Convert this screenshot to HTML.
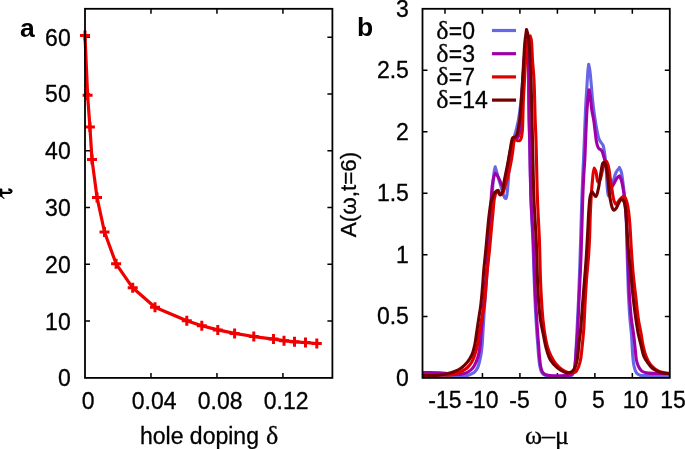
<!DOCTYPE html><html><head><meta charset="utf-8"><style>
html,body{margin:0;padding:0;background:#fff;width:685px;height:449px;overflow:hidden}
svg{display:block;will-change:transform}
text{font-family:"Liberation Sans",sans-serif;fill:#000}
.t{font-size:23px;stroke:#000;stroke-width:0.3px}
.b{font-size:26.5px;font-weight:bold}
.s{font-family:"Liberation Serif",serif;stroke:#000;stroke-width:0.3px}
</style></head><body>
<svg width="685" height="449" viewBox="0 0 685 449">
<path d="M150.97,377.9 v-5 M150.97,8.8 v5 M216.95,377.9 v-5 M216.95,8.8 v5 M282.92,377.9 v-5 M282.92,8.8 v5 M85,321.12 h5 M332.4,321.12 h-5 M85,264.33 h5 M332.4,264.33 h-5 M85,207.55 h5 M332.4,207.55 h-5 M85,150.76 h5 M332.4,150.76 h-5 M85,93.98 h5 M332.4,93.98 h-5 M85,37.19 h5 M332.4,37.19 h-5" stroke="#000" stroke-width="1.5" fill="none"/>
<polyline points="85,35.5 87.6,95.3 89.9,126.9 92,159.6 97,197.4 104.5,232 116.1,263.8 132.7,287.8 155,307.2 186.8,320.7 201.8,325.7 217.8,329.9 234.6,333.4 253.8,336.5 273.5,339.1 284,340.7 294.5,341.8 305.5,342.5 316.8,343.6" fill="none" stroke="#f00000" stroke-width="3.2" stroke-linejoin="round" stroke-linecap="round"/>
<path d="M80,35.5 h10 M85,30.5 v10 M82.6,95.3 h10 M87.6,90.3 v10 M84.9,126.9 h10 M89.9,121.9 v10 M87,159.6 h10 M92,154.6 v10 M92,197.4 h10 M97,192.4 v10 M99.5,232 h10 M104.5,227 v10 M111.1,263.8 h10 M116.1,258.8 v10 M127.7,287.8 h10 M132.7,282.8 v10 M150,307.2 h10 M155,302.2 v10 M181.8,320.7 h10 M186.8,315.7 v10 M196.8,325.7 h10 M201.8,320.7 v10 M212.8,329.9 h10 M217.8,324.9 v10 M229.6,333.4 h10 M234.6,328.4 v10 M248.8,336.5 h10 M253.8,331.5 v10 M268.5,339.1 h10 M273.5,334.1 v10 M279,340.7 h10 M284,335.7 v10 M289.5,341.8 h10 M294.5,336.8 v10 M300.5,342.5 h10 M305.5,337.5 v10 M311.8,343.6 h10 M316.8,338.6 v10" stroke="#f00000" stroke-width="3" fill="none"/>
<rect x="85" y="8.8" width="247.4" height="369.1" fill="none" stroke="#000" stroke-width="1.8"/>
<text class="t" x="70.7" y="386.3" text-anchor="end">0</text>
<text class="t" x="70.7" y="329.52" text-anchor="end">10</text>
<text class="t" x="70.7" y="272.73" text-anchor="end">20</text>
<text class="t" x="70.7" y="215.95" text-anchor="end">30</text>
<text class="t" x="70.7" y="159.16" text-anchor="end">40</text>
<text class="t" x="70.7" y="102.38" text-anchor="end">50</text>
<text class="t" x="70.7" y="45.59" text-anchor="end">60</text>
<text class="t" x="88.2" y="408.9" text-anchor="middle">0</text>
<text class="t" x="154.17" y="408.9" text-anchor="middle">0.04</text>
<text class="t" x="220.15" y="408.9" text-anchor="middle">0.08</text>
<text class="t" x="286.12" y="408.9" text-anchor="middle">0.12</text>
<text class="t" x="140" y="443.5">hole doping</text>
<text class="s" x="266" y="443.5" style="font-size:26px">δ</text>
<g fill="#000"><path d="M-2,188.6 H1.6 C2.2,188.6 2.4,189.4 2.4,190.5 V195.4 C2.4,196 2.8,196.6 3.6,197.2 L4.8,198.2 L4,198.9 L2,197.6 C1.2,197 0.6,196.4 -2,196.2 Z"/></g>
<path d="M1.5,192.9 H8.8 C10.8,193 11.9,191.8 11.3,190.6 C10.9,189.9 10,189.5 8.3,189.5" fill="none" stroke="#000" stroke-width="2.3" stroke-linecap="butt"/>
<text class="b" x="20" y="36.5">a</text>
<path d="M444.98,377.9 v-5 M444.98,8.8 v5 M482.45,377.9 v-5 M482.45,8.8 v5 M519.92,377.9 v-5 M519.92,8.8 v5 M557.39,377.9 v-5 M557.39,8.8 v5 M594.86,377.9 v-5 M594.86,8.8 v5 M632.33,377.9 v-5 M632.33,8.8 v5 M422.5,316.38 h5 M669.8,316.38 h-5 M422.5,254.87 h5 M669.8,254.87 h-5 M422.5,193.35 h5 M669.8,193.35 h-5 M422.5,131.83 h5 M669.8,131.83 h-5 M422.5,70.32 h5 M669.8,70.32 h-5" stroke="#000" stroke-width="1.5" fill="none"/>
<defs><clipPath id="rc"><rect x="422.5" y="0" width="247.3" height="379.9"/></clipPath></defs>
<g clip-path="url(#rc)" fill="none" stroke-width="3.1" stroke-linejoin="round">
<path d="M418,376.3 C432,376.3 452.82,376.52 460,376.3 C462.48,376.23 463.45,376.24 465,376 C466.39,375.78 467.69,375.42 468.9,375 C470.01,374.61 471.02,374.14 472,373.6 C472.95,373.07 473.86,372.6 474.7,371.8 C475.72,370.83 476.75,369.48 477.5,368 C478.37,366.29 478.85,364.09 479.4,362 C479.99,359.77 480.46,357.55 480.9,355 C481.42,351.97 481.88,348.34 482.2,345 C482.52,341.67 482.55,339.08 482.8,335 C483.19,328.54 483.77,317.87 484.3,310 C484.78,302.96 485.3,296.67 485.8,290 C486.3,283.33 486.8,276.67 487.3,270 C487.8,263.33 488.32,256.67 488.8,250 C489.28,243.33 489.78,236.67 490.2,230 C490.62,223.33 490.94,216.19 491.3,210 C491.61,204.64 491.89,199.82 492.2,195 C492.49,190.51 492.76,186.05 493.1,182 C493.4,178.45 493.67,174.78 494.1,172 C494.41,169.98 494.83,168.53 495.2,166.8 C495.6,168.2 495.92,169.34 496.4,171 C497.1,173.44 498.09,176.92 499,180 C499.96,183.25 501.02,186.91 502,190 C502.85,192.69 503.52,196.22 504.5,197.5 C504.97,198.11 505.59,198.68 506,198.5 C506.91,198.11 507.04,193.59 507.5,190 C508.28,183.87 508.73,172.27 509.5,165 C510.1,159.36 510.78,154.35 511.5,150 C512.06,146.61 512.65,143.86 513.3,141 C513.89,138.38 514.58,135.91 515.2,133.5 C515.78,131.25 516.36,129.29 516.9,127 C517.5,124.48 518.08,121.95 518.6,119 C519.23,115.41 519.8,111.16 520.3,107 C520.84,102.52 521.25,98.14 521.7,93 C522.25,86.71 522.77,78.82 523.3,72 C523.8,65.51 524.21,58.24 524.8,53 C525.22,49.28 525.35,44.67 526.2,43.5 C526.49,43.1 526.93,42.85 527.2,43 C527.87,43.37 527.79,46.85 528,50 C528.44,56.51 528.44,69.28 528.6,80 C528.79,92.38 528.78,108.96 529,120 C529.16,127.81 529.37,131.55 529.6,140 C529.99,154.64 530.39,182.02 531,200 C531.5,214.68 532.27,226.67 532.8,240 C533.33,253.33 533.79,268.95 534.2,280 C534.49,287.81 534.7,293.33 535,300 C535.3,306.67 535.64,313.81 536,320 C536.31,325.36 536.67,330.51 537,335 C537.27,338.67 537.52,341.45 537.8,345 C538.12,349.05 538.42,354.19 538.8,358 C539.1,360.99 539.32,363.6 539.8,366 C540.2,368.02 540.57,370 541.3,371.5 C541.89,372.71 542.49,373.76 543.5,374.5 C544.64,375.33 545.93,375.66 548,376 C552.25,376.69 563.89,376.36 568,376 C569.85,375.84 571,376.03 572,375.3 C573.02,374.55 573.51,372.98 574,371.5 C574.61,369.66 574.71,367.62 575,365 C575.44,361.04 575.69,355.36 576,350 C576.36,343.81 576.63,337.34 577,330 C577.45,321.01 578.03,310.72 578.5,300 C579.04,287.63 579.5,274.68 580,260 C580.61,242.02 581.25,215.69 581.8,200 C582.15,189.87 582.48,182.27 582.8,175 C583.04,169.36 583.26,165.64 583.5,160 C583.82,152.73 584.17,143.33 584.5,135 C584.83,126.67 585.1,118.07 585.5,110 C585.87,102.43 586.36,94.96 586.8,88 C587.2,81.7 587.59,74.32 588,70 C588.23,67.56 588.47,66.2 588.7,64.3 C589.07,66.2 589.45,67.64 589.8,70 C590.36,73.8 590.83,80 591.3,85 C591.77,90 592.12,95.28 592.6,100 C593.03,104.23 593.49,108.19 594,112 C594.47,115.49 594.95,118.67 595.5,122 C596.05,125.34 596.64,128.95 597.3,132 C597.86,134.61 598.33,137.3 599.1,139.2 C599.65,140.56 600.34,141.52 601,142.5 C601.58,143.36 602.33,143.87 602.8,144.8 C603.36,145.91 603.57,147.26 603.9,148.8 C604.33,150.84 604.67,153.2 605,156 C605.46,159.89 605.84,165.04 606.2,170 C606.61,175.62 606.8,183.21 607.3,188 C607.64,191.21 607.82,195.89 608.5,196 C609.01,196.08 609.88,193.68 610.5,192 C611.44,189.46 612.07,185.28 613,182 C613.91,178.78 614.74,175.09 616,172.5 C616.98,170.48 618.27,169.17 619.4,167.5 C620.03,169 620.77,170.13 621.3,172 C622.1,174.82 622.51,179.42 623,183 C623.47,186.41 623.83,189.51 624.2,193 C624.6,196.82 624.97,200.65 625.3,205 C625.69,210.17 626.03,215.63 626.3,222 C626.64,230.17 626.74,240.93 627,250 C627.24,258.57 627.54,267.03 627.8,275 C628.04,282.31 628.15,288.77 628.5,296 C628.87,303.74 629.43,312.94 630,320 C630.45,325.59 631.07,329.64 631.5,335 C631.99,341.18 632.2,349.33 632.7,355 C633.08,359.22 633.25,362.82 634,366 C634.6,368.55 635.19,371.12 636.4,372.7 C637.35,373.94 638.4,374.66 640,375.2 C642.42,376.01 646.02,375.52 650,375.6 C655.91,375.72 664.67,375.6 672,375.6" stroke="#6666e6"/>
<path d="M418,372.6 C422,372.57 426.18,372.46 430,372.5 C433.49,372.54 436.86,372.6 440,372.8 C442.82,372.98 445.42,373.34 448,373.6 C450.41,373.84 452.86,374.17 455,374.3 C456.8,374.41 458.43,374.54 460,374.4 C461.41,374.27 462.68,373.99 464,373.6 C465.35,373.2 466.67,372.79 468,372 C469.6,371.04 471.47,369.62 472.8,368 C474.19,366.31 475.16,364.12 476.1,362 C477.08,359.8 477.85,357.57 478.5,355 C479.27,351.99 479.78,348.34 480.2,345 C480.61,341.68 480.68,338.77 481,335 C481.41,330.08 482.01,323.75 482.5,318 C483.01,312.09 483.47,306.16 484,300 C484.56,293.51 485.22,286.67 485.8,280 C486.38,273.33 486.97,266.67 487.5,260 C488.03,253.33 488.55,246.67 489,240 C489.45,233.34 489.85,226.67 490.2,220 C490.55,213.33 490.73,206.07 491.1,200 C491.41,194.92 491.67,190.14 492.2,186 C492.63,182.66 493.13,179.32 493.8,177 C494.24,175.47 494.8,174.53 495.3,173.3 C495.97,174.03 496.65,174.54 497.3,175.5 C498.23,176.87 499.09,179.17 500,181 C500.92,182.84 501.91,186.49 502.8,186.5 C503.57,186.51 504.36,184.32 505,182.5 C506.14,179.23 506.69,172.96 507.5,168 C508.35,162.8 509.06,156.55 510,152 C510.71,148.55 511.31,145.24 512.3,143 C512.97,141.49 513.68,140.35 514.6,139.5 C515.39,138.77 516.56,138.78 517.3,138 C518.19,137.07 518.82,135.61 519.3,134 C519.94,131.84 519.95,128.88 520.2,126 C520.5,122.63 520.65,119.12 520.9,115 C521.21,109.74 521.51,103.49 521.9,97 C522.36,89.35 522.95,79.76 523.5,72 C523.98,65.23 524.41,58.07 525,53 C525.39,49.6 525.49,45.19 526.3,44.5 C526.56,44.28 526.95,44.28 527.2,44.5 C527.91,45.14 527.79,48.96 528,52 C528.33,56.7 528.46,63.24 528.6,70 C528.77,78.73 528.68,91.01 528.8,100 C528.9,107.34 529.05,113.33 529.2,120 C529.35,126.67 529.5,131.55 529.7,140 C530.04,154.64 530.29,182.03 531,200 C531.58,214.69 532.68,226.66 533.3,240 C533.92,253.33 534.26,268.96 534.7,280 C535.01,287.81 535.25,293.33 535.6,300 C535.95,306.67 536.41,313.81 536.8,320 C537.14,325.36 537.47,330.51 537.8,335 C538.07,338.67 538.32,341.45 538.6,345 C538.92,349.05 539.19,354.07 539.6,358 C539.94,361.28 540.21,364.46 540.8,367 C541.25,368.94 541.68,370.71 542.5,372 C543.17,373.05 543.92,373.82 545,374.4 C546.31,375.1 547.87,375.26 550,375.5 C553.64,375.91 561.34,375.81 565,375.6 C567.12,375.48 568.63,375.53 570,375 C571.13,374.56 572.07,373.91 572.8,373 C573.62,371.98 574.07,370.64 574.5,369 C575.12,366.64 575.19,363.38 575.5,360 C575.9,355.64 576.23,350 576.6,345 C576.97,340 577.36,335.86 577.7,330 C578.18,321.72 578.51,310.72 579,300 C579.56,287.62 580.33,274.68 580.9,260 C581.6,242.02 582.12,215.69 582.7,200 C583.07,189.87 583.4,182.27 583.8,175 C584.11,169.36 584.5,165.64 584.8,160 C585.19,152.73 585.43,143.33 585.8,135 C586.17,126.67 586.54,116.98 587,110 C587.33,104.96 587.69,100.69 588.1,97 C588.41,94.24 588.77,92.2 589.1,89.8 C589.5,91.87 589.93,93.51 590.3,96 C590.86,99.72 591.17,105.74 591.8,110 C592.34,113.62 593.15,116.51 593.7,120 C594.3,123.81 594.73,128.24 595.2,132 C595.62,135.32 595.9,138.75 596.4,141.4 C596.78,143.37 597.12,145.17 597.7,146.5 C598.12,147.46 598.62,148.27 599.2,148.8 C599.65,149.21 600.24,149.21 600.7,149.6 C601.25,150.06 601.78,150.71 602.2,151.5 C602.74,152.51 602.98,153.9 603.4,155.3 C603.91,157 604.5,158.99 605,161 C605.55,163.21 606.03,165.51 606.5,168 C607.03,170.81 607.47,174.19 608,177 C608.47,179.49 608.74,182.21 609.5,184 C610.04,185.27 610.79,186.99 611.5,187 C612.28,187.01 613.17,184.83 614,183.5 C615,181.9 615.94,179.36 617,178 C617.77,177.02 618.6,176.53 619.4,175.8 C620.03,177.2 620.76,178.34 621.3,180 C622.02,182.21 622.49,185.18 623,188 C623.57,191.14 624.05,194.51 624.5,198 C624.99,201.81 625.43,205.77 625.8,210 C626.21,214.72 626.52,219.36 626.8,225 C627.16,232.27 627.32,241.67 627.6,250 C627.88,258.33 628.17,267.03 628.5,275 C628.81,282.31 629.03,288.77 629.5,296 C630.01,303.74 630.69,312.95 631.5,320 C632.14,325.6 633.05,329.84 633.7,335 C634.39,340.48 635,347.39 635.5,352 C635.85,355.16 635.86,357.5 636.4,360 C636.9,362.31 637.53,364.59 638.5,366.5 C639.38,368.24 640.45,370.04 641.8,371.1 C643,372.05 644.3,372.41 646,372.8 C648.4,373.35 651.52,373.28 655,373.4 C659.77,373.56 666.33,373.4 672,373.4" stroke="#a000a8"/>
<path d="M418,374.8 C425.33,374.87 433.97,374.97 440,375 C444.2,375.02 447.85,375.29 450.7,375 C452.63,374.8 453.92,374.49 455.5,374 C457.12,373.5 458.6,372.86 460.3,372 C462.38,370.95 465.08,369.68 467,368 C468.91,366.34 470.51,364.18 471.8,362 C473.08,359.84 473.81,357.57 474.7,355 C475.74,351.99 476.82,348.36 477.5,345 C478.17,341.69 478.23,338.66 478.8,335 C479.5,330.5 480.58,325 481.5,320 C482.42,315 483.59,310.17 484.3,305 C485.05,299.53 485.31,293.75 485.8,288 C486.31,282.09 486.71,276.15 487.3,270 C487.93,263.5 488.83,256.67 489.5,250 C490.17,243.34 490.7,236.49 491.3,230 C491.87,223.84 492.43,217.62 493,212 C493.5,207.04 493.7,201.66 494.5,198 C495.03,195.55 495.63,193.32 496.5,192 C497.05,191.16 497.85,190.17 498.4,190.3 C499.17,190.49 499.35,194.72 500.2,195 C500.83,195.2 501.79,194.43 502.5,193.5 C504,191.55 505.16,185.89 506.3,182 C507.46,178.06 508.52,173.83 509.4,170 C510.2,166.53 510.82,163.34 511.4,160 C511.98,156.67 512.5,153.04 512.9,150 C513.24,147.46 513.35,144.84 513.7,143 C513.93,141.78 513.92,140.4 514.5,140 C514.97,139.68 515.86,140.06 516.5,140.2 C517.12,140.33 517.71,140.76 518.3,140.8 C518.84,140.84 519.44,140.84 519.9,140.5 C520.56,140 521.01,138.77 521.4,137.5 C521.98,135.6 522.17,132.69 522.4,130 C522.67,126.91 522.66,123.91 522.8,120 C522.99,114.48 523.12,106.66 523.4,100 C523.68,93.33 524.12,86.67 524.5,80 C524.88,73.33 525.21,66.39 525.7,60 C526.15,54.1 526.57,47.16 527.3,43 C527.73,40.54 528.08,38.35 528.8,37.2 C529.2,36.56 529.73,36.4 530.2,36 C530.57,37.33 530.99,38.13 531.3,40 C531.98,44.1 532.05,53.34 532.5,60 C532.95,66.67 533.59,72.18 534,80 C534.58,91.04 534.81,108.96 535.2,120 C535.47,127.81 535.73,131.55 536,140 C536.48,154.64 536.85,182.02 537.5,200 C538.03,214.68 538.9,226.66 539.4,240 C539.9,253.33 540.07,268.96 540.5,280 C540.8,287.81 541.08,293.34 541.5,300 C541.92,306.67 542.36,313.82 543,320 C543.56,325.37 544.2,330.29 545,335 C545.72,339.24 546.41,343.33 547.5,347 C548.47,350.26 549.57,353.15 551,356 C552.41,358.82 554.08,361.69 556,364 C557.78,366.14 559.89,368.05 562,369.5 C563.91,370.82 566.04,371.97 568,372.5 C569.7,372.95 571.57,373.05 573,372.8 C574.15,372.6 575.15,372.27 576,371.5 C577.07,370.53 577.79,368.71 578.5,367 C579.34,364.97 579.96,362.67 580.5,360 C581.2,356.56 581.52,352.41 582,348 C582.59,342.61 583.22,336.5 583.7,330 C584.26,322.35 584.53,313.33 585,305 C585.47,296.67 585.9,288.16 586.5,280 C587.08,272.17 587.98,264.09 588.5,257 C588.94,250.91 589.2,246.47 589.5,240 C589.9,231.41 590.02,219.82 590.5,210 C590.96,200.5 591.53,189.72 592.3,182 C592.85,176.52 593.28,168.13 594.2,168 C594.71,167.93 595.46,170.33 596,172 C596.82,174.55 596.94,181.68 598,182 C598.56,182.17 599.41,181.04 600,180 C601.12,178.02 601.69,173.03 602.5,170 C603.18,167.45 603.58,164.47 604.5,163 C605.04,162.13 605.84,161.16 606.4,161.3 C607.27,161.52 607.9,164.64 608.5,167 C609.42,170.6 609.94,176.73 610.6,181 C611.16,184.61 611.62,187.67 612.2,191 C612.78,194.34 613.22,198.62 614.1,201 C614.64,202.46 615.31,204.23 616,204.3 C616.62,204.36 617.29,202.87 618,202 C618.87,200.93 619.74,199.27 620.8,198.3 C621.76,197.42 623.1,196.07 624,196.3 C625.02,196.56 625.74,198.75 626.4,200.5 C627.34,202.97 627.85,206.46 628.4,210 C629.08,214.42 629.45,219.36 629.9,225 C630.48,232.27 630.83,241.67 631.4,250 C631.97,258.34 632.54,267.04 633.3,275 C634,282.31 634.86,288.77 635.7,296 C636.59,303.73 637.46,313.23 638.5,320 C639.27,325.01 640.24,328.75 641,333 C641.73,337.08 642.15,341.11 643,345 C643.83,348.77 644.73,352.68 646,356 C647.12,358.94 648.38,361.75 650,364 C651.44,366 653.24,367.66 655,369 C656.59,370.2 657.89,371.06 660,371.8 C663.07,372.88 668,373.13 672,373.8" stroke="#e00000"/>
<path d="M418,375.6 C423.67,375.57 430.57,375.73 435,375.5 C437.85,375.35 439.77,375.14 442,374.8 C444.06,374.49 445.88,374.12 447.9,373.6 C450.08,373.04 452.41,372.41 454.6,371.5 C456.88,370.56 459.21,369.51 461.3,368 C463.53,366.39 465.74,364.2 467.5,362 C469.22,359.86 470.64,357.63 471.8,355 C473.11,352.04 473.95,348.36 474.7,345 C475.44,341.69 475.74,338.67 476.3,335 C476.99,330.51 477.75,325 478.5,320 C479.25,315 480.15,310.24 480.8,305 C481.51,299.28 481.99,292.92 482.5,287 C482.99,281.25 483.28,275.89 483.8,270 C484.36,263.6 485.17,256.67 485.8,250 C486.43,243.33 486.97,236.49 487.6,230 C488.2,223.84 488.77,217.38 489.5,212 C490.1,207.59 490.5,203.41 491.5,200 C492.29,197.3 493.25,194.65 494.5,193 C495.4,191.81 496.74,190.32 497.6,190.5 C498.55,190.7 498.94,194.62 499.8,194.8 C500.46,194.94 501.39,194.03 502,193 C503.26,190.86 503.44,184.91 504.2,181 C504.93,177.25 505.73,173.58 506.45,170 C507.13,166.59 507.78,163.34 508.4,160 C509.02,156.67 509.62,153.1 510.15,150 C510.61,147.32 510.93,144.67 511.4,142.5 C511.77,140.8 511.95,138.84 512.6,138 C512.98,137.51 513.5,137.37 514,137.2 C514.5,137.03 515.13,137.32 515.6,137 C516.28,136.53 516.77,135.21 517.2,134 C517.78,132.38 518.01,130.15 518.4,128 C518.85,125.53 519.34,122.82 519.7,120 C520.1,116.86 520.32,113.33 520.6,110 C520.88,106.67 521.13,103.82 521.4,100 C521.76,94.88 522.13,88.3 522.5,82 C522.91,75.03 523.33,66.97 523.75,60 C524.13,53.7 524.38,47.45 524.9,42 C525.34,37.45 525.97,33.67 526.5,29.5 C526.93,31 527.41,32.15 527.8,34 C528.4,36.84 528.94,41.04 529.3,45 C529.72,49.6 529.74,54.64 530,60 C530.3,66.19 530.71,72.19 531,80 C531.41,91.04 531.72,108.95 532,120 C532.2,127.81 532.29,131.55 532.5,140 C532.87,154.64 533.28,182.03 534,200 C534.59,214.69 535.62,226.66 536.2,240 C536.78,253.33 537.04,268.96 537.5,280 C537.82,287.81 538,293.34 538.5,300 C539,306.67 539.6,313.83 540.5,320 C541.29,325.38 542.39,330.06 543.4,335 C544.39,339.85 545.23,345.01 546.5,349.4 C547.62,353.25 548.56,356.91 550.4,360 C552.15,362.93 554.71,365.55 557.1,367.6 C559.21,369.42 561.92,371.06 563.8,371.9 C565.01,372.45 565.94,372.71 567,372.8 C568.01,372.89 569.04,372.84 570,372.5 C571.05,372.12 572.14,371.43 573,370.5 C574.03,369.38 574.8,367.77 575.5,366 C576.38,363.76 576.98,361.01 577.5,358 C578.16,354.21 578.31,349.49 578.8,345 C579.33,340.18 580.05,335.64 580.6,330 C581.31,322.73 581.85,313.33 582.5,305 C583.15,296.67 583.87,288.07 584.5,280 C585.1,272.43 585.68,265.78 586.2,258 C586.79,249.23 587.31,238.77 587.8,230 C588.23,222.23 588.49,214.22 589,208 C589.37,203.39 589.56,198.94 590.3,196 C590.75,194.2 591.32,191.89 592,191.8 C592.58,191.73 593.3,193.69 594,194.5 C594.64,195.24 595.4,196.65 596,196.5 C597.05,196.23 597.76,191.31 598.5,188 C599.5,183.53 600.14,176.56 601,172 C601.65,168.56 601.95,164.16 603,163 C603.43,162.52 604.05,162.28 604.5,162.5 C605.36,162.92 605.96,165.78 606.5,168 C607.27,171.2 607.54,175.92 608,180 C608.48,184.24 608.76,188.96 609.3,193 C609.78,196.56 610.38,200.17 611,203 C611.47,205.12 611.83,207.21 612.5,208.5 C612.93,209.32 613.44,210.26 614,210.3 C614.6,210.34 615.35,209.34 616,208.5 C616.98,207.22 617.83,204.6 618.8,203 C619.61,201.67 620.38,199.68 621.3,199.5 C622.04,199.35 623.06,200.08 623.7,201 C624.85,202.65 625.1,206.39 625.6,210 C626.33,215.33 626.43,223.33 626.9,230 C627.37,236.67 627.77,242.97 628.4,250 C629.1,257.87 630.21,267.03 631,275 C631.73,282.3 632.2,288.77 633,296 C633.85,303.74 634.97,312.94 636,320 C636.82,325.59 637.57,330.52 638.5,335 C639.27,338.69 640.12,341.54 641,345 C641.95,348.75 642.61,353.49 644,356.7 C645.09,359.22 646.68,361.12 648,363 C649.14,364.63 650.07,366.15 651.4,367.4 C652.73,368.65 654.48,369.68 656,370.5 C657.34,371.23 658.57,371.74 660,372.2 C661.55,372.7 663.18,373.04 665,373.3 C667.13,373.61 669.67,373.63 672,373.8" stroke="#720000"/>
</g>
<rect x="422.5" y="8.8" width="247.3" height="369.1" fill="none" stroke="#000" stroke-width="1.8"/>
<text class="s" x="436.3" y="38.5" style="font-size:26px">δ</text>
<text class="t" x="448.8" y="38.5">=0</text>
<path d="M492,30.5 H516" stroke="#6666e6" stroke-width="3.2"/>
<text class="s" x="436.3" y="61.7" style="font-size:26px">δ</text>
<text class="t" x="448.8" y="61.7">=3</text>
<path d="M492,53.7 H516" stroke="#a000a8" stroke-width="3.2"/>
<text class="s" x="436.3" y="84.9" style="font-size:26px">δ</text>
<text class="t" x="448.8" y="84.9">=7</text>
<path d="M492,76.9 H516" stroke="#e00000" stroke-width="3.2"/>
<text class="s" x="436.3" y="108.1" style="font-size:26px">δ</text>
<text class="t" x="448.8" y="108.1">=14</text>
<path d="M492,100.1 H516" stroke="#720000" stroke-width="3.2"/>
<text class="t" x="408.9" y="385.8" text-anchor="end">0</text>
<text class="t" x="408.9" y="324.28" text-anchor="end">0.5</text>
<text class="t" x="408.9" y="262.77" text-anchor="end">1</text>
<text class="t" x="408.9" y="201.25" text-anchor="end">1.5</text>
<text class="t" x="408.9" y="139.73" text-anchor="end">2</text>
<text class="t" x="408.9" y="78.22" text-anchor="end">2.5</text>
<text class="t" x="408.9" y="16.7" text-anchor="end">3</text>
<text class="t" x="444.9" y="408.2" text-anchor="middle">-15</text>
<text class="t" x="482" y="408.2" text-anchor="middle">-10</text>
<text class="t" x="519.6" y="408.2" text-anchor="middle">-5</text>
<text class="t" x="560.6" y="408.2" text-anchor="middle">0</text>
<text class="t" x="598.5" y="408.2" text-anchor="middle">5</text>
<text class="t" x="635.5" y="408.2" text-anchor="middle">10</text>
<text class="t" x="673" y="408.2" text-anchor="middle">15</text>
<text class="t s" x="525" y="443.5" style="font-size:26px">ω–μ</text>
<text class="t" transform="translate(356,194.5) rotate(-90)" text-anchor="middle" style="font-size:22.5px">A(ω,t=6)</text>
<text class="b" x="357" y="36">b</text>
</svg></body></html>
